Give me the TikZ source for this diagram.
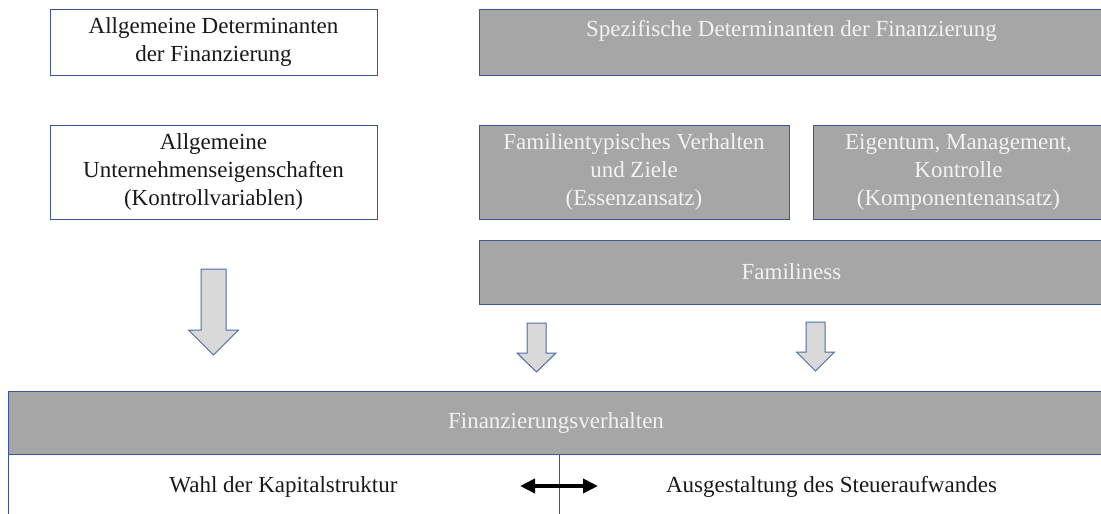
\documentclass[tikz,border=0pt]{standalone}
\usepackage{fontspec}
\setmainfont{Liberation Serif}
\usetikzlibrary{%
  arrows.meta,%
}
\definecolor{boxline}{HTML}{3A5894}
\definecolor{boxgray}{HTML}{A6A6A6}
\definecolor{graytext}{HTML}{F2F2F2}
\definecolor{arrowfill}{HTML}{D9D9D9}
\definecolor{arrowline}{HTML}{4C6CA6}

\begin{document}
\begin{tikzpicture}[x=1pt, y=-1pt, >=Latex,
    box/.style={draw=boxline, line width=1pt, inner sep=0pt, align=center,
      font=\fontsize{23}{28}\selectfont},
    whitebox/.style={box, fill=white, text=black!90},
    graybox/.style={box, fill=boxgray, text=graytext},
    blockarrow/.style={draw=arrowline, fill=arrowfill, line width=1pt}]

      \useasboundingbox (0, 0) rectangle (1101, 514);
      \clip (0, 0) rectangle (1101, 514);

      % left column
      \node [whitebox, minimum width=327pt, minimum height=66pt] (allgdet)
        at (213.5, 42) {Allgemeine Determinanten\\der Finanzierung};
      \node [whitebox, minimum width=327pt, minimum height=94pt] (allgunt)
        at (213.5, 172) {Allgemeine\\Unternehmenseigenschaften\\(Kontrollvariablen)};

      % right column
      \node [graybox, minimum width=625pt, minimum height=66pt] (spezdet)
        at (791.5, 42) {Spezifische Determinanten der Finanzierung\\ \mbox{}};
      \node [graybox, minimum width=310pt, minimum height=94pt] (essenz)
        at (634, 172) {Familientypisches Verhalten\\und Ziele\\(Essenzansatz)};
      \node [graybox, minimum width=291pt, minimum height=94pt] (komponente)
        at (958.5, 172) {Eigentum, Management,\\Kontrolle\\(Komponentenansatz)};
      \node [graybox, minimum width=625pt, minimum height=64pt] (familiness)
        at (791.5, 272) {Familiness};

      % block arrows
      \draw [blockarrow] (201, 269) -- (226, 269) -- (226, 330) -- (238.5, 330)
        -- (213.5, 355) -- (188.5, 330) -- (201, 330) -- cycle;
      \draw [blockarrow] (527, 323) -- (546, 323) -- (546, 353) -- (556, 353)
        -- (536.5, 372) -- (517, 353) -- (527, 353) -- cycle;
      \draw [blockarrow] (806, 322) -- (825, 322) -- (825, 352) -- (834.5, 352)
        -- (815.5, 371) -- (796.5, 352) -- (806, 352) -- cycle;

      % bottom
      \node [graybox, minimum width=1096pt, minimum height=63pt] (verhalten)
        at (556, 422.5) {Finanzierungsverhalten};
      \node [whitebox, minimum width=551pt, minimum height=66pt] (kapital)
        at (283.5, 487) {Wahl der Kapitalstruktur};
      \node [whitebox, minimum width=545pt, minimum height=66pt] (steuer)
        at (831.5, 487) {Ausgestaltung des Steueraufwandes};

      \coordinate (kleft) at (520, 486);
      \coordinate (kright) at (598, 486);
      \draw [{Triangle[length=15pt, width=14pt]}-{Triangle[length=15pt, width=14pt]},
        line width=4pt] (kleft) -- (kright);

\end{tikzpicture}
\end{document}
